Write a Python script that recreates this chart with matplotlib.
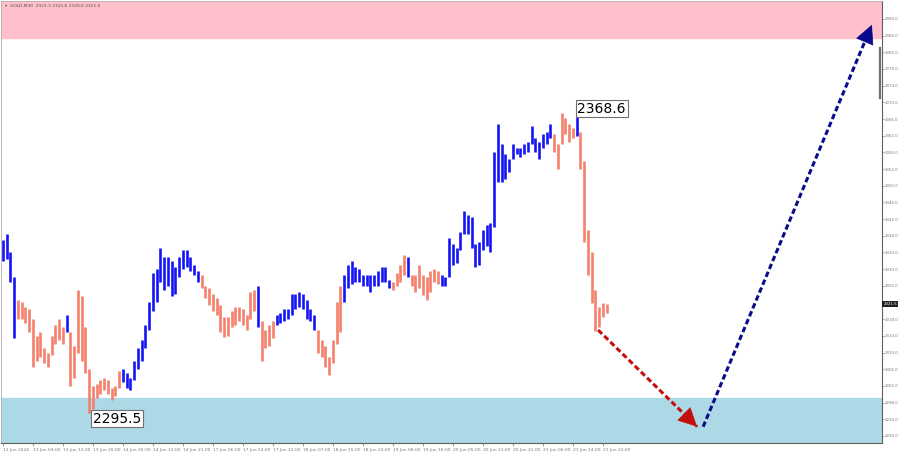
import numpy as np
import matplotlib.pyplot as plt
import matplotlib.transforms as mtransforms

# --- dados do gráfico (GOLD M30, barras agrupadas de 2 em 2) ---
highs = [
    2337, 2338.5, 2334, 2328,
    2322.5, 2322, 2321, 2320.5, 2318, 2314, 2315, 2311, 2310, 2314, 2316.5, 2318, 2316,
    2319,
    2315, 2311.5, 2325, 2323.5, 2316, 2306, 2302, 2302.5, 2303.5, 2304, 2303.5, 2301.5, 2302, 2305.5,
    2306, 2305, 2304, 2308, 2311, 2313, 2316.5, 2322, 2329, 2330, 2335, 2333, 2333, 2332, 2330.5,
    2333, 2334.5, 2334.5, 2333, 2331, 2329.5,
    2328.5, 2326, 2325.5, 2324, 2323, 2321.5, 2318.5, 2318.5, 2320, 2320.8, 2320.8, 2320.5, 2319,
    2324.5, 2325,
    2326,
    2317.5, 2315.5, 2316.5, 2317.5,
    2319, 2319.5, 2320.5, 2320.5, 2324, 2324, 2324.5, 2324, 2322.5, 2320.5, 2319,
    2315.5, 2313, 2311.5, 2309, 2313, 2322, 2326,
    2328.5, 2331, 2332, 2330.5, 2330, 2328.5, 2328.5, 2328.5, 2328.5, 2329.5, 2330.5, 2330.5, 2327.5,
    2327, 2329, 2331, 2333.5,
    2333,
    2328.5, 2328.5, 2331, 2328.5, 2328, 2329.5, 2330, 2329.5,
    2328.5, 2328, 2337.5, 2336, 2335, 2339, 2344, 2343, 2342.5, 2336, 2336.5, 2339.5, 2340.5, 2341,
    2358, 2364.8, 2360, 2357.5, 2356.5, 2360, 2359, 2359, 2360, 2360.6, 2364.3, 2361.4, 2360.6,
    2362.3, 2363, 2364.8,
    2362.3, 2360, 2367.4, 2366.2, 2364.8, 2363.8,
    2368.6,
    2363, 2356, 2339.5, 2334, 2325, 2321, 2321.8, 2321.6,
]
lows = [
    2332, 2332.5, 2327, 2313.5,
    2318, 2318, 2317, 2315, 2306.5, 2308, 2309, 2307.5, 2306.5, 2309.5, 2312, 2313, 2312,
    2315,
    2302, 2304, 2310, 2308, 2305, 2295.5, 2296.5, 2299, 2300, 2301, 2300, 2298.5, 2299.5, 2301.5,
    2303, 2301.5, 2301, 2303.5, 2306, 2308, 2311, 2315.5, 2320, 2322, 2327, 2325, 2326, 2323.5, 2324,
    2328, 2330, 2330.5, 2329.5, 2328.5, 2327,
    2325.5, 2323, 2321.5, 2320, 2319, 2315, 2313.8, 2314, 2316, 2316.5, 2317.5, 2316.5, 2315.5,
    2318, 2320,
    2316,
    2308, 2311, 2311.5, 2313.5,
    2316.5, 2317, 2317.5, 2318, 2319, 2320.5, 2321, 2320.5, 2318, 2317.5, 2315.5,
    2310, 2309, 2306.5, 2304.5, 2307.5, 2312, 2315,
    2322, 2325.5, 2326.5, 2327, 2327, 2326, 2326, 2324.5, 2326, 2326, 2327, 2327, 2325.5,
    2325, 2326, 2327, 2328.5,
    2328,
    2326, 2324.5, 2325.5, 2323.8, 2322.5, 2324.5, 2327, 2326.5,
    2326, 2326, 2328, 2331, 2331.5, 2334.5, 2338.5, 2338.5, 2335, 2330.5, 2331, 2334.5, 2335.5, 2334,
    2340, 2351, 2351, 2351.7, 2353.3, 2356.5, 2357.5, 2357, 2357.5, 2358, 2360, 2358.2, 2356.5,
    2359, 2360, 2361.4,
    2358.2, 2354, 2360, 2362.3, 2360.6, 2361.4,
    2362,
    2354, 2336.5, 2328.5, 2321.8, 2315.2, 2316, 2318.6, 2319.4,
]

# tamanho de cada onda (alternando: alta, baixa, alta, ...)
wave_lengths = [4, 13, 1, 14, 21, 15, 1, 4, 11, 7, 13, 4, 1, 8, 30, 6, 1, 8]

x_labels = ["12 Jun 2024", "13 Jun 04:00", "13 Jun 12:00", "13 Jun 20:00", "14 Jun 05:00",
            "14 Jun 13:00", "14 Jun 21:00", "17 Jun 06:00", "17 Jun 14:00", "17 Jun 22:00",
            "18 Jun 07:00", "18 Jun 15:00", "18 Jun 23:00", "19 Jun 08:00", "19 Jun 16:00",
            "20 Jun 05:00", "20 Jun 13:00", "20 Jun 21:00", "21 Jun 06:00", "21 Jun 14:00",
            "21 Jun 22:00"]

# zonas e projeção
resistance_zone = (2385.4, 2394.3)
support_zone = (2288.3, 2299.1)
down_arrow_x = [158.7, 185.1]
down_arrow_y = [2315.4, 2292.2]
up_arrow_x = [186.7, 231.7]
up_arrow_y = [2292.2, 2388.6]
current_price = 2321.6

# --- figura ---
fig = plt.figure(figsize=(9, 4.53), dpi=100)
ax = fig.add_axes([1 / 900, 10 / 453, 881 / 900, 442 / 453])

ax.axhspan(*resistance_zone, color='pink', zorder=0)
ax.axhspan(*support_zone, color='lightblue', zorder=0)

# cores por onda
colors = []
for k, n in enumerate(wave_lengths):
    colors += [('#1414f5' if k % 2 == 0 else '#f5806c')] * n

x = np.arange(len(highs))
ax.vlines(x, lows, highs, colors=colors, linewidth=1.9, zorder=2)

# rótulos de máxima e mínima
i_hi = int(np.argmax(highs))
i_lo = int(np.argmin(lows))
box = dict(boxstyle='square,pad=0.12', fc='white', ec='#707070', lw=0.8)
ax.text(i_hi + 0.2, highs[i_hi] - 0.1, f'{highs[i_hi]:.1f}', fontsize=10, ha='left', va='center',
        bbox=box, zorder=5)
ax.text(i_lo + 1.0, lows[i_lo] - 1.4, f'{lows[i_lo]:.1f}', fontsize=10, ha='left', va='center',
        bbox=box, zorder=5)


def dashed_arrow(xs, ys, color):
    ax.plot(xs, ys, color=color, linewidth=2.2, dashes=(1.8, 1.0), zorder=4, solid_capstyle='butt')
    dx = (xs[1] - xs[0]) * 0.01
    dy = (ys[1] - ys[0]) * 0.01
    ax.annotate('', xy=(xs[1], ys[1]), xytext=(xs[1] - dx, ys[1] - dy),
                arrowprops=dict(arrowstyle='-|>,head_length=0.9,head_width=0.45', color=color,
                                lw=0.5, mutation_scale=14, shrinkA=0, shrinkB=0), zorder=4,
                annotation_clip=False)


dashed_arrow(down_arrow_x, down_arrow_y, '#c40f0f')
dashed_arrow(up_arrow_x, up_arrow_y, '#0a0a8c')

# eixos
ax.set_xlim(-0.53, 234.4)
ax.set_ylim(support_zone[0], resistance_zone[1])

ax.set_xticks(np.arange(len(x_labels)) * 8)
ax.set_xticklabels(x_labels, ha='left')
y_ticks = np.arange(2290, 2391, 4)
ax.set_yticks(y_ticks)
# o rótulo coberto pela caixa do preço atual fica vazio
ax.set_yticklabels(['' if abs(v - current_price) < 2 else f'{v:.1f}' for v in y_ticks])
ax.yaxis.tick_right()
ax.tick_params(axis='y', length=1.5, width=0.5, colors='#777777', labelsize=2.8, pad=0.8)
ax.tick_params(axis='x', length=2, width=0.5, colors='#777777', labelsize=3.2, pad=1.5)

for side in ['left', 'top']:
    ax.spines[side].set_color('#b0b0b0')
    ax.spines[side].set_linewidth(0.6)
for side in ['right', 'bottom']:
    ax.spines[side].set_color('#606060')
    ax.spines[side].set_linewidth(0.8)

# marcador escuro no eixo direito
trans = mtransforms.blended_transform_factory(ax.transAxes, ax.transData)
ax.plot([0.998, 0.998], [2371, 2383], transform=trans, color='#707070', lw=1.6, clip_on=False)

# preço atual
ax.annotate(f'{current_price:.1f}', xy=(1, current_price), xycoords=trans,
            xytext=(1.0, 0), textcoords='offset points', fontsize=2.8, color='white',
            ha='left', va='center', bbox=dict(boxstyle='square,pad=0.25', fc='#202020', ec='none'),
            annotation_clip=False)

# cabeçalho
fig.text(5 / 900, 1 - 6 / 453, '\u25be  GOLD,M30  2321.3 2321.6 2320.6 2321.6', fontsize=3.2,
         color='#505050', va='center', ha='left')

plt.savefig('out.png', dpi=100)
